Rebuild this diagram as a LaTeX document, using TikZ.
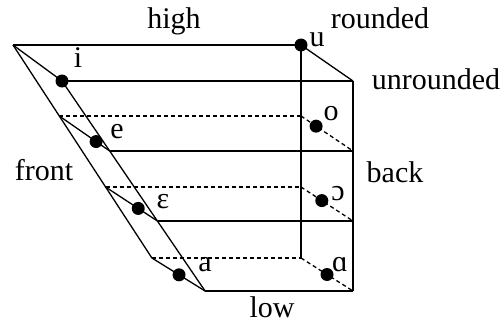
\documentclass[tikz,border=0pt]{standalone}
\usepackage{fontspec}
\setmainfont{Liberation Serif}
\usetikzlibrary{calc}
\begin{document}
\begin{tikzpicture}[x=1pt,y=-1pt,line width=1.3pt,
  every node/.style={font=\fontsize{30}{36}\selectfont,inner sep=0pt},
  vowel/.style={circle,fill=black,minimum size=13pt,inner sep=0pt},
  hid/.style={dash pattern=on 4pt off 3pt}]
\useasboundingbox (0,0) rectangle (504,324);
% corners of the back (rounded) and front (unrounded) planes
\foreach \k in {0,...,3} {
  \coordinate (BL\k) at ({13+46.3*\k},{45+71*\k});
  \coordinate (BR\k) at (301,{45+71*\k});
  \coordinate (FL\k) at ({62+47.7*\k},{81+70*\k});
  \coordinate (FR\k) at (353,{81+70*\k});
}
% box edges
\draw (BL0) -- (BL3);
\draw (FL0) -- (FL3);
\draw (BR0) -- (BR3);
\draw (FR0) -- (FR3);
\draw (BL0) -- (BR0);
\draw (BR0) -- (FR0);
\foreach \k in {0,...,3} {
  \draw (FL\k) -- (FR\k);
  \draw (BL\k) -- (FL\k);
}
\foreach \k in {1,2,3} {
  \draw[hid] (BL\k) -- (BR\k);
  \draw[hid] (BR\k) -- (FR\k);
}
% vowels
\node[vowel] (vi) at (FL0) {};
\node[vowel] (vu) at (BR0) {};
\node[vowel] (ve) at ($(BL1)!0.73!(FL1)$) {};
\node[vowel] (veps) at ($(BL2)!0.63!(FL2)$) {};
\node[vowel] (va) at ($(BL3)!0.51!(FL3)$) {};
\node[vowel] (vo) at ($(BR1)!0.29!(FR1)$) {};
\node[vowel] (vopen) at ($(BR2)!0.40!(FR2)$) {};
\node[vowel] (vback) at ($(BR3)!0.50!(FR3)$) {};
% labels
\node (ti) at (78,58) {i};
\node (tu) at (317,40) {u};
\node (te) at (117,132) {e};
\node (to) at (331,114) {o};
\node (teps) at (163,202) {ɛ};
\node (topen) at (338,194) {ɔ};
\node (ta) at (205,265) {a};
\node (tback) at (340,265) {ɑ};
\node (high) at (174,21) {high};
\node (low) at (272,307) {low};
\node (rnd) at (380,18) {rounded};
\node (unrnd) at (436,79) {unrounded};
\node (front) at (44,170) {front};
\node (back) at (395,172) {back};
\end{tikzpicture}
\end{document}
